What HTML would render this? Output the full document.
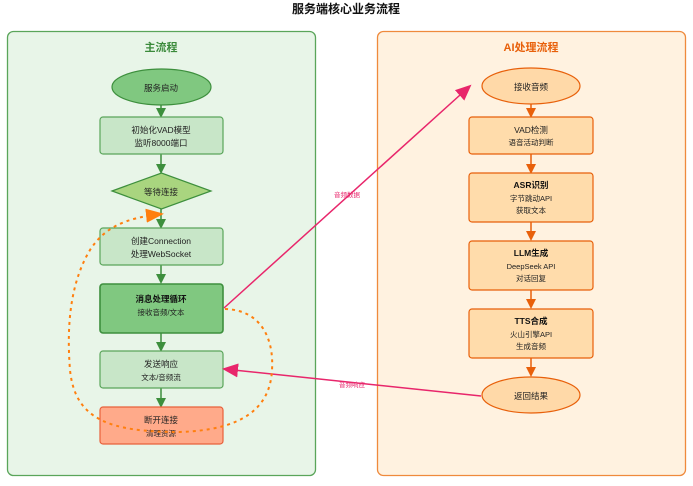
<!DOCTYPE html>
<html><head><meta charset="utf-8"><style>
html,body{margin:0;padding:0;background:#fff;}
text{font-family:"Liberation Sans","Noto Sans CJK SC",sans-serif;}
</style></head><body>
<svg width="693" height="481" viewBox="0 0 693 481" xmlns="http://www.w3.org/2000/svg">
<defs>
<marker id="ag" markerWidth="10" markerHeight="10" refX="8" refY="5" orient="auto" markerUnits="userSpaceOnUse"><path d="M0,0 L10,5 L0,10 z" fill="#3d8f3d"/></marker>
<marker id="ao" markerWidth="10" markerHeight="10" refX="8" refY="5" orient="auto" markerUnits="userSpaceOnUse"><path d="M0,0 L10,5 L0,10 z" fill="#e8600a"/></marker>
<marker id="ap" markerWidth="16" markerHeight="14" refX="14" refY="7" orient="auto" markerUnits="userSpaceOnUse"><path d="M0,0 L16,7 L0,14 z" fill="#e8266b"/></marker>
<marker id="ad" markerWidth="18" markerHeight="14" refX="16" refY="7" orient="auto" markerUnits="userSpaceOnUse"><path d="M0,0 L18,7 L0,14 z" fill="#ff7f0e"/></marker>
</defs>
<text x="346" y="13" font-size="12" font-weight="bold" text-anchor="middle" fill="#111">服务端核心业务流程</text>
<rect x="7.5" y="31.5" width="308" height="444" rx="6" fill="#e8f5e8" stroke="#5aa55a" stroke-width="1.3"/>
<rect x="377.5" y="31.5" width="308" height="444" rx="6" fill="#fff2e0" stroke="#ef8a3c" stroke-width="1.3"/>
<text x="161" y="51" font-size="11" font-weight="bold" text-anchor="middle" fill="#3a8a3a">主流程</text>
<text x="531" y="51" font-size="11" font-weight="bold" text-anchor="middle" fill="#e8600a">AI处理流程</text>

<g stroke="#3d8f3d" stroke-width="1.5" marker-end="url(#ag)">
<line x1="161" y1="105" x2="161" y2="116"/>
<line x1="161" y1="154" x2="161" y2="172"/>
<line x1="161" y1="209" x2="161" y2="227"/>
<line x1="161" y1="265" x2="161" y2="282"/>
<line x1="161" y1="333" x2="161" y2="350"/>
<line x1="161" y1="388" x2="161" y2="406"/>
</g>
<ellipse cx="161.5" cy="87" rx="49.5" ry="18" fill="#80c880" stroke="#3d8f3d" stroke-width="1.2"/>
<text x="161" y="91" font-size="8.5" text-anchor="middle" fill="#222">服务启动</text>
<rect x="100" y="117" width="123" height="37" rx="3" fill="#c8e6c8" stroke="#5aa55a" stroke-width="1.2"/>
<text x="161" y="133" font-size="8.5" text-anchor="middle" fill="#222">初始化VAD模型</text>
<text x="161" y="146" font-size="8.5" text-anchor="middle" fill="#222">监听8000端口</text>
<polygon points="112,191 161.5,173 211,191 161.5,209" fill="#a9d57f" stroke="#3d8f3d" stroke-width="1.2"/>
<text x="161" y="195" font-size="8.5" text-anchor="middle" fill="#222">等待连接</text>
<rect x="100" y="228" width="123" height="37" rx="3" fill="#c8e6c8" stroke="#5aa55a" stroke-width="1.2"/>
<text x="161" y="244" font-size="8.5" text-anchor="middle" fill="#222">创建Connection</text>
<text x="161" y="257" font-size="8.5" text-anchor="middle" fill="#222">处理WebSocket</text>
<rect x="100" y="284" width="123" height="49" rx="3" fill="#80c880" stroke="#3d8f3d" stroke-width="1.6"/>
<text x="161" y="302" font-size="8.5" font-weight="bold" text-anchor="middle" fill="#111">消息处理循环</text>
<text x="161" y="315" font-size="7.5" text-anchor="middle" fill="#222">接收音频/文本</text>
<rect x="100" y="351" width="123" height="37" rx="3" fill="#c8e6c8" stroke="#5aa55a" stroke-width="1.2"/>
<text x="161" y="367" font-size="8.5" text-anchor="middle" fill="#222">发送响应</text>
<text x="161" y="380" font-size="7.5" text-anchor="middle" fill="#222">文本/音频流</text>
<rect x="100" y="407" width="123" height="37" rx="3" fill="#ffaa8a" stroke="#e8603a" stroke-width="1.2"/>
<text x="161" y="423" font-size="8.5" text-anchor="middle" fill="#222">断开连接</text>
<text x="161" y="436" font-size="7.5" text-anchor="middle" fill="#222">清理资源</text>

<g stroke="#e8600a" stroke-width="1.5" marker-end="url(#ao)">
<line x1="531" y1="104" x2="531" y2="116"/>
<line x1="531" y1="154" x2="531" y2="172"/>
<line x1="531" y1="222" x2="531" y2="239"/>
<line x1="531" y1="290" x2="531" y2="307"/>
<line x1="531" y1="358" x2="531" y2="375"/>
</g>
<ellipse cx="531" cy="86" rx="49" ry="18" fill="#ffd9a8" stroke="#e8600a" stroke-width="1.2"/>
<text x="531" y="90" font-size="8.5" text-anchor="middle" fill="#222">接收音频</text>
<rect x="469" y="117" width="124" height="37" rx="3" fill="#ffdcab" stroke="#e8600a" stroke-width="1.2"/>
<text x="531" y="133" font-size="8.5" text-anchor="middle" fill="#222">VAD检测</text>
<text x="531" y="145" font-size="7.5" text-anchor="middle" fill="#222">语音活动判断</text>
<rect x="469" y="173" width="124" height="49" rx="3" fill="#ffdcab" stroke="#e8600a" stroke-width="1.2"/>
<text x="531" y="188" font-size="8.5" font-weight="bold" text-anchor="middle" fill="#111">ASR识别</text>
<text x="531" y="201" font-size="7.5" text-anchor="middle" fill="#222">字节跳动API</text>
<text x="531" y="213" font-size="7.5" text-anchor="middle" fill="#222">获取文本</text>
<rect x="469" y="241" width="124" height="49" rx="3" fill="#ffdcab" stroke="#e8600a" stroke-width="1.2"/>
<text x="531" y="256" font-size="8.5" font-weight="bold" text-anchor="middle" fill="#111">LLM生成</text>
<text x="531" y="269" font-size="7.5" text-anchor="middle" fill="#222">DeepSeek API</text>
<text x="531" y="281" font-size="7.5" text-anchor="middle" fill="#222">对话回复</text>
<rect x="469" y="309" width="124" height="49" rx="3" fill="#ffdcab" stroke="#e8600a" stroke-width="1.2"/>
<text x="531" y="324" font-size="8.5" font-weight="bold" text-anchor="middle" fill="#111">TTS合成</text>
<text x="531" y="337" font-size="7.5" text-anchor="middle" fill="#222">火山引擎API</text>
<text x="531" y="349" font-size="7.5" text-anchor="middle" fill="#222">生成音频</text>
<ellipse cx="531" cy="395" rx="49" ry="18" fill="#ffd9a8" stroke="#e8600a" stroke-width="1.2"/>
<text x="531" y="399" font-size="8.5" text-anchor="middle" fill="#222">返回结果</text>

<line x1="224" y1="308" x2="470" y2="86" stroke="#e8266b" stroke-width="1.5" marker-end="url(#ap)"/>
<line x1="481" y1="396" x2="224" y2="369" stroke="#e8266b" stroke-width="1.5" marker-end="url(#ap)"/>
<text x="347" y="197" font-size="6.5" text-anchor="middle" fill="#e8266b">音频数据</text>
<text x="352" y="387" font-size="6.5" text-anchor="middle" fill="#e8266b">音频响应</text>

<path d="M225,309 C262,310 274,340 272,370 C270,410 240,430 180,432 C110,432 75,420 70,370 C66,320 72,280 90,250 C105,227 125,218 162,214" fill="none" stroke="#ff7f0e" stroke-width="2" stroke-dasharray="3,4" marker-end="url(#ad)"/>
</svg>
</body></html>
